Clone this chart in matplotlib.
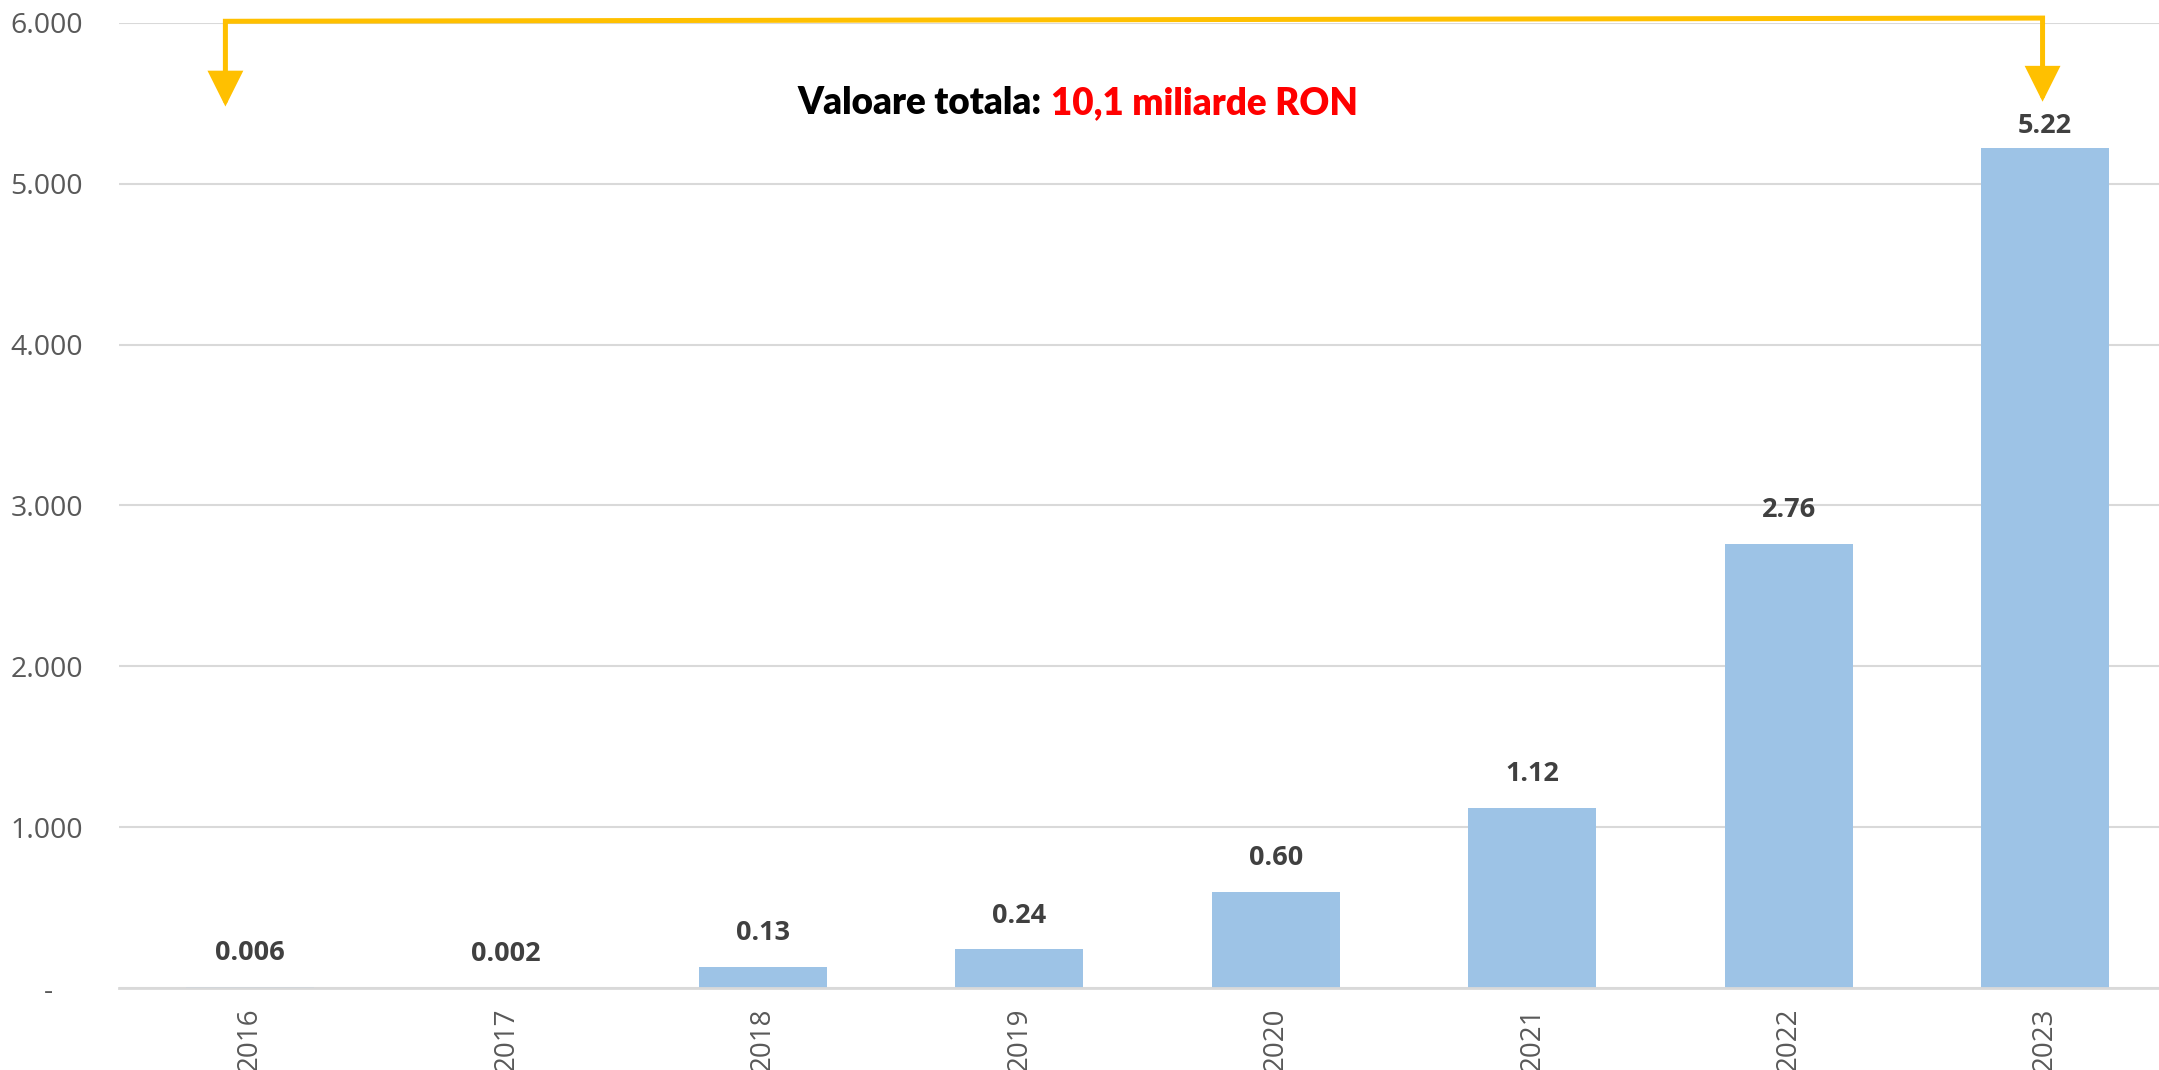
import numpy as np
import matplotlib
matplotlib.use('Agg')
import matplotlib.pyplot as plt
from matplotlib.patches import FancyArrowPatch
from matplotlib.path import Path

# Data (millions RON, labels in billions)
years = ['2016', '2017', '2018', '2019', '2020', '2021', '2022', '2023']
values = [6, 2, 130, 240, 600, 1120, 2760, 5220]
value_labels = ['0.006', '0.002', '0.13', '0.24', '0.60', '1.12', '2.76', '5.22']
y_ticks = [0, 1000, 2000, 3000, 4000, 5000, 6000]
y_tick_labels = ['-    ', '1.000', '2.000', '3.000', '4.000', '5.000', '6.000']

plt.rcParams['font.family'] = ['Open Sans', 'DejaVu Sans']

fig = plt.figure(figsize=(21.59, 10.70), dpi=100)
ax = fig.add_axes([0.0551, 0.0766, 0.9449, 0.902])

x = np.arange(len(years))
ax.bar(x, values, width=0.5, color='#9DC3E6', zorder=2)

# Data labels above bars (last one sits closer to the bar)
offsets = [15, 15, 15, 15, 15, 15, 15, 7]
for xi, v, lab, off in zip(x, values, value_labels, offsets):
    ax.annotate(lab, (xi, v), xytext=(0, off), textcoords='offset points',
                ha='center', va='bottom', fontsize=19.5, fontweight='bold',
                color='#404040', zorder=4)

ax.set_xlim(-0.51, 7.444)
ax.set_ylim(0, 6000)
ax.set_yticks(y_ticks)
ax.set_yticklabels(y_tick_labels)
ax.set_xticks(x)
ax.set_xticklabels(years, rotation=90, va='top')
ax.tick_params(axis='y', length=0, pad=26, labelsize=20.5, labelcolor='#595959')
ax.tick_params(axis='x', length=0, pad=14, labelsize=20, labelcolor='#595959')
ax.grid(axis='y', color='#D9D9D9', linewidth=1.5, zorder=0)
ax.set_axisbelow(True)
for s in ['top', 'right', 'left']:
    ax.spines[s].set_visible(False)
ax.spines['bottom'].set_color('#D9D9D9')
ax.spines['bottom'].set_linewidth(2)

# Orange bracket arrow over the whole period
verts = [(-0.095, 5480), (-0.095, 6010), (6.99, 6030), (6.99, 5510)]
codes = [Path.MOVETO, Path.LINETO, Path.LINETO, Path.LINETO]
arrow = FancyArrowPatch(path=Path(verts, codes), arrowstyle='<|-|>,head_length=1.0,head_width=0.5',
                        mutation_scale=20, color='#FFC000', linewidth=3.6,
                        joinstyle='miter', clip_on=False, zorder=5)
ax.add_patch(arrow)

# Title in two colours
fig.text(1042 / 2159, 1 - 103 / 1070, 'Valoare totala:', ha='right', va='center',
         fontsize=26.5, fontweight='heavy', color='black', family=['Lato', 'DejaVu Sans'])
fig.text(1051 / 2159, 1 - 103 / 1070, '10,1 miliarde RON', ha='left', va='center',
         fontsize=26.5, fontweight='heavy', color='#FF0000', family=['Lato', 'DejaVu Sans'])

fig.savefig('out.png', dpi=100)
